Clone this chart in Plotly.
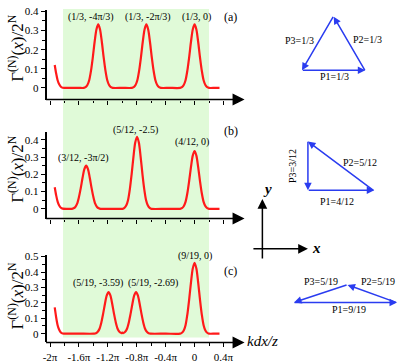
import plotly.graph_objects as go

# ---------------- data ----------------
# x in units of pi ; y = Gamma^(N)(x) / 2^N
xa = [-1.935, -1.915, -1.895, -1.875, -1.85, -1.825, -1.7, -1.6,
      -1.533, -1.508, -1.483, -1.458, -1.433, -1.408, -1.383, -1.358, -1.333,
      -1.308, -1.283, -1.258, -1.233, -1.208, -1.183, -1.158, -1.133,
      -1.0,
      -0.867, -0.842, -0.817, -0.792, -0.767, -0.742, -0.717, -0.692, -0.667,
      -0.642, -0.617, -0.592, -0.567, -0.542, -0.517, -0.492, -0.467,
      -0.35,
      -0.2, -0.175, -0.15, -0.125, -0.1, -0.075, -0.05, -0.025, 0.0,
      0.025, 0.05, 0.075, 0.1, 0.125, 0.15, 0.175, 0.2,
      0.28, 0.345]
ya = [0.12, 0.075, 0.04, 0.02, 0.006, 0.001, 0.0, 0.0,
      0.0, 0.004, 0.015, 0.04, 0.09, 0.16, 0.24, 0.306, 0.333,
      0.306, 0.24, 0.16, 0.09, 0.04, 0.015, 0.004, 0.0,
      0.0,
      0.0, 0.004, 0.015, 0.04, 0.09, 0.16, 0.24, 0.306, 0.333,
      0.306, 0.24, 0.16, 0.09, 0.04, 0.015, 0.004, 0.0,
      0.0,
      0.0, 0.004, 0.015, 0.04, 0.09, 0.16, 0.24, 0.306, 0.333,
      0.306, 0.24, 0.16, 0.09, 0.04, 0.015, 0.004, 0.0,
      0.0, 0.0]

xb = [-1.935, -1.915, -1.895, -1.875, -1.85, -1.825, -1.76,
      -1.7, -1.675, -1.65, -1.625, -1.6, -1.575, -1.55, -1.525, -1.5,
      -1.475, -1.45, -1.425, -1.4, -1.375, -1.35, -1.325, -1.3,
      -1.15,
      -0.996, -0.971, -0.946, -0.921, -0.896, -0.871, -0.846, -0.821, -0.796,
      -0.771, -0.746, -0.721, -0.696, -0.671, -0.646, -0.621, -0.596,
      -0.4,
      -0.2, -0.175, -0.15, -0.125, -0.1, -0.075, -0.05, -0.025, 0.0,
      0.025, 0.05, 0.075, 0.1, 0.125, 0.15, 0.175, 0.2,
      0.28, 0.345]
yb = [0.125, 0.078, 0.042, 0.021, 0.006, 0.001, 0.0,
      0.0, 0.003, 0.011, 0.03, 0.068, 0.12, 0.18, 0.23, 0.25,
      0.23, 0.18, 0.12, 0.068, 0.03, 0.011, 0.003, 0.0,
      0.0,
      0.0, 0.005, 0.019, 0.05, 0.113, 0.2, 0.3, 0.384, 0.417,
      0.384, 0.3, 0.2, 0.113, 0.05, 0.019, 0.005, 0.0,
      0.0,
      0.0, 0.004, 0.015, 0.04, 0.09, 0.161, 0.241, 0.308, 0.335,
      0.308, 0.241, 0.161, 0.09, 0.04, 0.015, 0.004, 0.0,
      0.0, 0.0]

xc = [-1.935, -1.915, -1.895, -1.875, -1.85, -1.825, -1.7, -1.6,
      -1.39, -1.365, -1.34, -1.315, -1.29, -1.265, -1.24, -1.215, -1.19,
      -1.165, -1.14, -1.115, -1.09, -1.065, -1.04, -1.015,
      -1.0,
      -0.985, -0.96, -0.935, -0.91, -0.885, -0.86, -0.835, -0.81,
      -0.785, -0.76, -0.735, -0.71, -0.685, -0.66, -0.635, -0.61,
      -0.4,
      -0.2, -0.175, -0.15, -0.125, -0.1, -0.075, -0.05, -0.025, 0.0,
      0.025, 0.05, 0.075, 0.1, 0.125, 0.15, 0.175, 0.2,
      0.28, 0.345]
yc = [0.17, 0.105, 0.055, 0.027, 0.008, 0.001, 0.0, 0.0,
      0.0, 0.003, 0.012, 0.032, 0.073, 0.13, 0.194, 0.248, 0.27,
      0.248, 0.194, 0.13, 0.073, 0.032, 0.012, 0.004,
      0.006,
      0.004, 0.012, 0.032, 0.073, 0.13, 0.194, 0.248, 0.27,
      0.248, 0.194, 0.13, 0.073, 0.032, 0.012, 0.003, 0.0,
      0.0,
      0.0, 0.006, 0.021, 0.055, 0.124, 0.221, 0.331, 0.423, 0.46,
      0.423, 0.331, 0.221, 0.124, 0.055, 0.021, 0.006, 0.0,
      0.0, 0.0]

x_tickvals = [-2, -1.6, -1.2, -0.8, -0.4, 0, 0.4]
x_ticktext = ["-2π", "-1.6π", "-1.2π", "-0.8π", "-0.4π", "0", "0.4π"]
x_minorvals = [-1.8, -1.4, -1.0, -0.6, -0.2, 0.2, 0.6]
y_tickvals_ab = [0, 0.1, 0.2, 0.3, 0.4]
y_tickvals_c = [0, 0.1, 0.2, 0.3, 0.4, 0.5]

peak_labels_a = ["(1/3, -4π/3)", "(1/3, -2π/3)", "(1/3, 0)"]
peak_labels_b = ["(3/12, -3π/2)", "(5/12, -2.5)", "(4/12, 0)"]
peak_labels_c = ["(5/19, -3.59)", "(5/19, -2.69)", "(9/19, 0)"]
tri_labels_a = ["P1=1/3", "P2=1/3", "P3=1/3"]
tri_labels_b = ["P1=4/12", "P2=5/12", "P3=3/12"]
tri_labels_c = ["P1=9/19", "P2=5/19", "P3=5/19"]

for xs, ys in ((xa, ya), (xb, yb), (xc, yc)):
    assert len(xs) == len(ys)

# ---------------- layout helpers ----------------
W, H = 399, 363
def fx(p): return p / W
def fy(p): return 1 - p / H

SERIF = "Liberation Serif"
RED = "#ff1a1a"
BLUE = "#2a3cf0"
GREEN = "rgb(224,250,216)"

XL, XR, X0, PPX = 43, 243, 192.5, 73.0
xrange_ = [(XL - X0) / PPX, (XR - X0) / PPX]

panels = [
    dict(x=xa, y=ya, zero=85, ppu=196, top=5, axis=97, yt=y_tickvals_ab),
    dict(x=xb, y=yb, zero=209, ppu=177, top=130, axis=219, yt=y_tickvals_ab),
    dict(x=xc, y=yc, zero=337, ppu=158, top=256, axis=346, yt=y_tickvals_c),
]

fig = go.Figure()
layout = dict(width=W, height=H, margin=dict(l=0, r=0, t=0, b=0),
              paper_bgcolor="white", plot_bgcolor="rgba(0,0,0,0)",
              showlegend=False,
              font=dict(family=SERIF, size=11, color="black"))

annotations = []
for i, p in enumerate(panels):
    n = "" if i == 0 else str(i + 1)
    fig.add_trace(go.Scatter(x=p["x"], y=p["y"], mode="lines",
                             line=dict(color=RED, width=2.2, shape="spline", smoothing=0.8),
                             xaxis="x" + n, yaxis="y" + n, hoverinfo="skip"))
    minor_y = [v + 0.05 for v in p["yt"]]
    layout["xaxis" + n] = dict(domain=[fx(XL), fx(XR)], range=xrange_, anchor="y" + n,
                               showline=False, zeroline=False, showgrid=False,
                               ticks="outside", ticklen=4, tickwidth=1.2, tickcolor="black",
                               tickvals=x_tickvals, ticktext=x_ticktext,
                               showticklabels=(i == 2),
                               tickfont=dict(family=SERIF, size=11, color="black"),
                               minor=dict(ticks="outside", ticklen=2.5, tickwidth=1.2,
                                          tickcolor="black", tickvals=x_minorvals, showgrid=False))
    layout["yaxis" + n] = dict(domain=[fy(p["axis"]), fy(p["top"])],
                               range=[(p["zero"] - p["axis"]) / p["ppu"], (p["zero"] - p["top"]) / p["ppu"]],
                               anchor="x" + n, showline=True, linecolor="black", linewidth=1.5,
                               zeroline=False, showgrid=False,
                               ticks="outside", ticklen=4, tickwidth=1.2, tickcolor="black",
                               tickvals=p["yt"], ticktext=[("0" if v == 0 else f"{v:.1f}") for v in p["yt"]],
                               tickfont=dict(family=SERIF, size=11, color="black"),
                               minor=dict(ticks="outside", ticklen=2.5, tickwidth=1.2,
                                          tickcolor="black", tickvals=minor_y, showgrid=False))
    # x axis line with arrow
    annotations.append(dict(x=fx(XR), y=fy(p["axis"]), xref="paper", yref="paper",
                            ax=-(XR - XL), ay=0, axref="pixel", ayref="pixel",
                            showarrow=True, text="", arrowhead=2, arrowsize=1.6,
                            arrowwidth=1.5, arrowcolor="black", standoff=0))

# green band
fig.add_shape(type="rect", xref="x3", yref="paper", x0=-1.82, x1=0.2,
              y0=fy(341), y1=fy(4), fillcolor=GREEN, line=dict(width=0), layer="below")

# y axis titles
ytitle = "Γ<sup>(N)</sup>(<i>x</i>)/2<sup>N</sup>"
for yc_pix in (44, 168, 298):
    annotations.append(dict(x=fx(12), y=fy(yc_pix), xref="paper", yref="paper",
                            text=ytitle, textangle=-90, showarrow=False,
                            font=dict(family=SERIF, size=17, color="black"),
                            xanchor="center", yanchor="middle"))

def label(text, px, py, size=10, angle=0, italic=False, bold=False):
    t = text
    if italic:
        t = "<i>" + t + "</i>"
    if bold:
        t = "<b>" + t + "</b>"
    annotations.append(dict(x=fx(px), y=fy(py), xref="paper", yref="paper", text=t,
                            showarrow=False, textangle=angle,
                            font=dict(family=SERIF, size=size, color="black"),
                            xanchor="center", yanchor="middle"))

# peak labels
for t, (px, py) in zip(peak_labels_a, [(88, 12), (145, 12), (194, 12)]):
    label(t, px, py)
for t, (px, py) in zip(peak_labels_b, [(80, 157), (133, 128), (190, 140)]):
    label(t, px, py)
for t, (px, py) in zip(peak_labels_c, [(95, 285), (151, 285), (193, 257)]):
    label(t, px, py)
label("(a)", 229, 12, size=12)
label("(b)", 229, 129, size=12)
label("(c)", 229, 273, size=12)
label("kdx/z", 261, 345, size=15, italic=True)

def arrow(tail, head, color=BLUE, width=1.5, size=1.0):
    annotations.append(dict(x=fx(head[0]), y=fy(head[1]), xref="paper", yref="paper",
                            ax=tail[0] - head[0], ay=tail[1] - head[1],
                            axref="pixel", ayref="pixel", showarrow=True, text="",
                            arrowhead=2, arrowsize=size, arrowwidth=width,
                            arrowcolor=color, standoff=0))

# triangle (a)
A, B, C = (301, 67), (365, 67), (333, 12)
arrow(A, B); arrow(B, C); arrow(C, A)
label(tri_labels_a[0], 334, 73)
label(tri_labels_a[1], 367, 35)
label(tri_labels_a[2], 298, 36)

# triangle (b)
A, B, C = (307, 190), (374, 190), (307, 140)
arrow(A, B); arrow(B, C); arrow(C, A)
label(tri_labels_b[0], 336, 201)
label(tri_labels_b[1], 360, 161)
label(tri_labels_b[2], 292, 165, angle=-90)

# triangle (c)
A, B, C = (293, 305), (397, 305), (347, 287)
arrow(A, B); arrow(B, C); arrow(C, A)
label(tri_labels_c[0], 348, 312)
label(tri_labels_c[1], 378, 284)
label(tri_labels_c[2], 320, 284)

# coordinate axes sketch
arrow((261, 260), (261, 199), color="black", width=1.5, size=1.3)
arrow((251, 250), (307, 250), color="black", width=1.5, size=1.3)
label("y", 266, 189, size=15, italic=True, bold=True)
label("x", 316, 249, size=15, italic=True, bold=True)

layout["annotations"] = annotations
fig.update_layout(**layout)
fig.write_html("out.html", config={"displayModeBar": False},
               post_script="document.body.style.margin='0';document.body.style.padding='0';")
